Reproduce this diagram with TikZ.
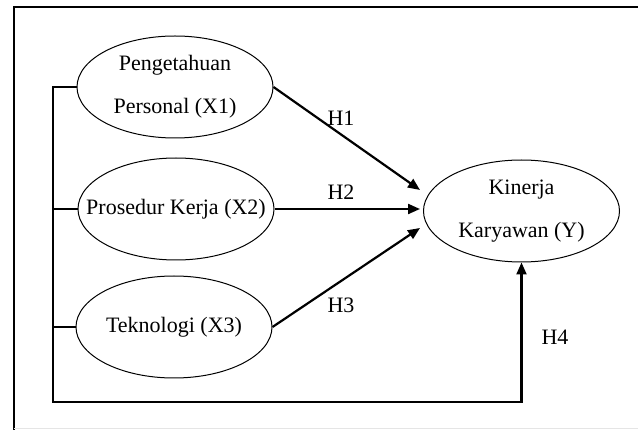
\documentclass[tikz,border=0pt]{standalone}
\usepackage{fontspec}
\setmainfont{Liberation Serif}
\usetikzlibrary{shapes.geometric,arrows.meta}
\tikzset{
    latent-var/.style = {draw, ellipse, line width=1pt, minimum width=196pt, minimum height=102pt, inner sep=0pt},
    var-text/.style = {align=center, inner sep=0pt, font=\fontsize{22}{43}\selectfont},
    path-arrow/.style = {line width=2.2pt, -{Triangle[length=12pt,width=10pt]}},
    path-label/.style = {font=\fontsize{22}{26}\selectfont},
}

\begin{document}
\begin{tikzpicture}[x=1pt,y=-1pt]
\useasboundingbox (0,0) rectangle (638,430);
\draw[line width=2.2pt] (14,430) -- (14,7) -- (640,7);
\draw[gray!20] (14,428) -- (638,428);
\node[latent-var, label={[var-text]center:Pengetahuan\\Personal (X1)}] (x1) at (175,87) {};
\node[latent-var, label={[var-text]center:Prosedur Kerja (X2)}] (x2) at (176,209) {};
\node[latent-var, label={[var-text]center:Teknologi (X3)}] (x3) at (174,327) {};
\node[latent-var, label={[var-text]center:Kinerja\\Karyawan (Y)}] (ky) at (521.5,211) {};
\coordinate (bus-top) at (53,87);
\coordinate (bus-bottom) at (53,402);
\draw[path-arrow] (x1.west) -- (bus-top) -- (bus-bottom) -| (ky.south);
\draw[line width=2.2pt] (x2.west) -- (x2.west -| bus-top);
\draw[line width=2.2pt] (x3.west) -- (x3.west -| bus-top);
\draw[path-arrow] (x1.east) -- ([shift={(-3,-21)}]ky.west);
\draw[path-arrow] (x2.east) -- ([xshift=-3pt]x2.east -| ky.west);
\draw[path-arrow] (x3.east) -- ([shift={(-3,17)}]ky.west);
\node[path-label] (h1) at (341,118) {H1};
\node[path-label] (h2) at (341,192) {H2};
\node[path-label] (h3) at (341,305) {H3};
\node[path-label] (h4) at (555,337) {H4};
\end{tikzpicture}
\end{document}
